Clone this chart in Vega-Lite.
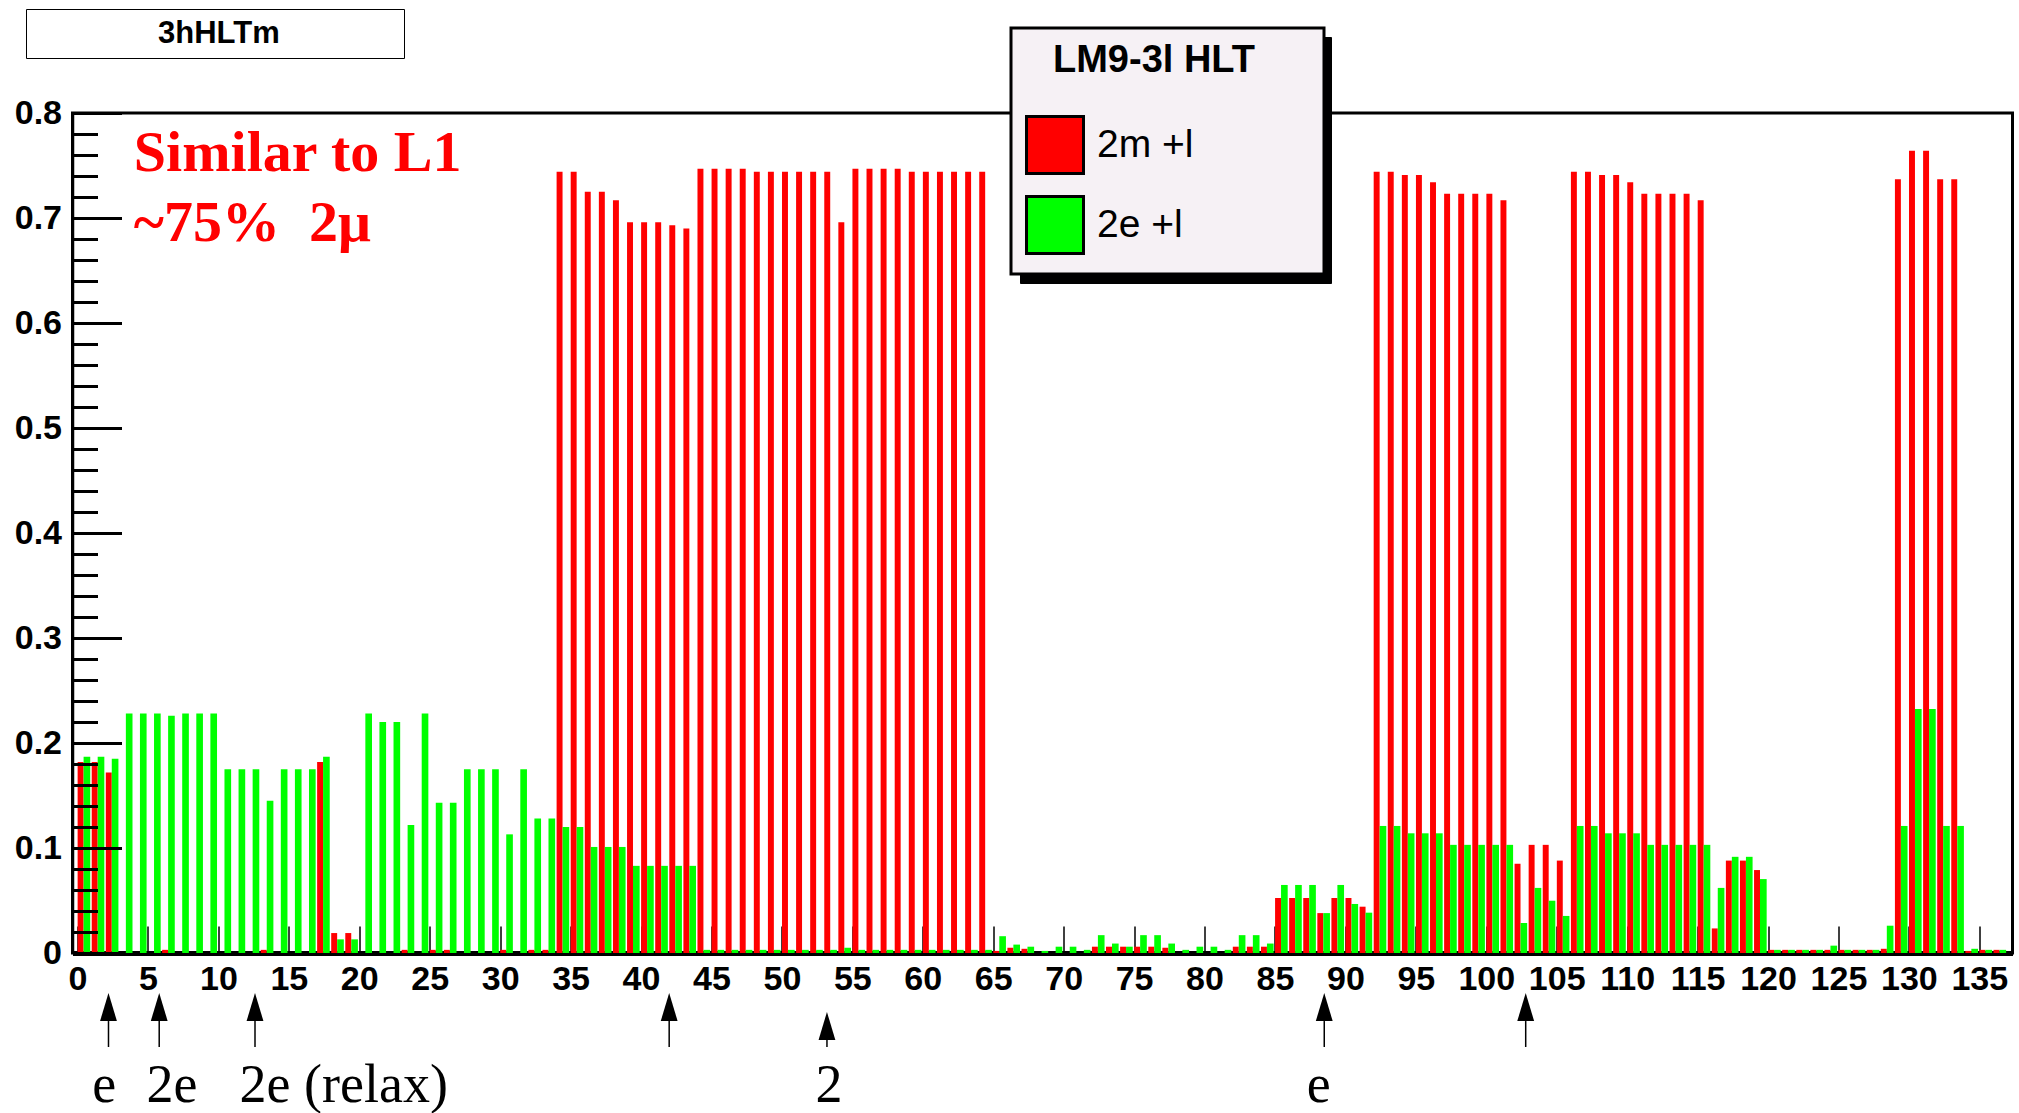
{
  "$schema": "https://vega.github.io/schema/vega-lite/v6.json",
  "width": 1940,
  "height": 840,
  "autosize": {"type": "none"},
  "padding": {"left": 72.5, "top": 113, "right": 6.5, "bottom": 160},
  "background": "white",
  "config": {
    "view": {"stroke": "black", "strokeWidth": 3},
    "axis": {"domainColor": "black", "tickColor": "black", "labelColor": "black", "grid": false}
  },
  "data": {"values": [
    {"bin":0,"m":0.182,"e":0.187},{"bin":1,"m":0.182,"e":0.187},{"bin":2,"m":0.172,"e":0.185},
    {"bin":3,"m":0,"e":0.228},{"bin":4,"m":0,"e":0.228},{"bin":5,"m":0,"e":0.228},
    {"bin":6,"m":0.003,"e":0.226},{"bin":7,"m":0,"e":0.228},{"bin":8,"m":0,"e":0.228},
    {"bin":9,"m":0,"e":0.228},{"bin":10,"m":0,"e":0.175},{"bin":11,"m":0,"e":0.175},
    {"bin":12,"m":0,"e":0.175},{"bin":13,"m":0.003,"e":0.145},{"bin":14,"m":0,"e":0.175},
    {"bin":15,"m":0,"e":0.175},{"bin":16,"m":0,"e":0.175},{"bin":17,"m":0.182,"e":0.187},
    {"bin":18,"m":0.019,"e":0.013},{"bin":19,"m":0.019,"e":0.013},{"bin":20,"m":0,"e":0.228},
    {"bin":21,"m":0,"e":0.22},{"bin":22,"m":0,"e":0.22},{"bin":23,"m":0.003,"e":0.122},
    {"bin":24,"m":0,"e":0.228},{"bin":25,"m":0.003,"e":0.143},{"bin":26,"m":0.003,"e":0.143},
    {"bin":27,"m":0,"e":0.175},{"bin":28,"m":0,"e":0.175},{"bin":29,"m":0,"e":0.175},
    {"bin":30,"m":0.003,"e":0.113},{"bin":31,"m":0,"e":0.175},{"bin":32,"m":0.003,"e":0.128},
    {"bin":33,"m":0.003,"e":0.128},{"bin":34,"m":0.744,"e":0.12},{"bin":35,"m":0.744,"e":0.12},
    {"bin":36,"m":0.725,"e":0.101},{"bin":37,"m":0.725,"e":0.101},{"bin":38,"m":0.717,"e":0.101},
    {"bin":39,"m":0.696,"e":0.083},{"bin":40,"m":0.696,"e":0.083},{"bin":41,"m":0.696,"e":0.083},
    {"bin":42,"m":0.693,"e":0.083},{"bin":43,"m":0.69,"e":0.083},{"bin":44,"m":0.747,"e":0.003},
    {"bin":45,"m":0.747,"e":0.003},{"bin":46,"m":0.747,"e":0.003},{"bin":47,"m":0.747,"e":0.003},
    {"bin":48,"m":0.744,"e":0.003},{"bin":49,"m":0.744,"e":0.003},{"bin":50,"m":0.744,"e":0.003},
    {"bin":51,"m":0.744,"e":0.003},{"bin":52,"m":0.744,"e":0.003},{"bin":53,"m":0.744,"e":0.003},
    {"bin":54,"m":0.696,"e":0.005},{"bin":55,"m":0.747,"e":0.003},{"bin":56,"m":0.747,"e":0.003},
    {"bin":57,"m":0.747,"e":0.003},{"bin":58,"m":0.747,"e":0.003},{"bin":59,"m":0.744,"e":0.003},
    {"bin":60,"m":0.744,"e":0.003},{"bin":61,"m":0.744,"e":0.003},{"bin":62,"m":0.744,"e":0.003},
    {"bin":63,"m":0.744,"e":0.003},{"bin":64,"m":0.744,"e":0.003},{"bin":65,"m":0.002,"e":0.016},
    {"bin":66,"m":0.005,"e":0.008},{"bin":67,"m":0.004,"e":0.006},{"bin":68,"m":0,"e":0.002},
    {"bin":69,"m":0,"e":0.006},{"bin":70,"m":0,"e":0.006},{"bin":71,"m":0,"e":0.003},
    {"bin":72,"m":0.006,"e":0.017},{"bin":73,"m":0.006,"e":0.009},{"bin":74,"m":0.006,"e":0.006},
    {"bin":75,"m":0.006,"e":0.017},{"bin":76,"m":0.006,"e":0.017},{"bin":77,"m":0.005,"e":0.009},
    {"bin":78,"m":0,"e":0.003},{"bin":79,"m":0,"e":0.006},{"bin":80,"m":0,"e":0.006},
    {"bin":81,"m":0,"e":0.003},{"bin":82,"m":0.006,"e":0.017},{"bin":83,"m":0.006,"e":0.017},
    {"bin":84,"m":0.006,"e":0.009},{"bin":85,"m":0.0524,"e":0.0648},{"bin":86,"m":0.0524,"e":0.0648},
    {"bin":87,"m":0.0524,"e":0.0648},{"bin":88,"m":0.038,"e":0.038},{"bin":89,"m":0.0524,"e":0.0648},
    {"bin":90,"m":0.0524,"e":0.0467},{"bin":91,"m":0.0441,"e":0.0384},{"bin":92,"m":0.744,"e":0.121},
    {"bin":93,"m":0.744,"e":0.121},{"bin":94,"m":0.741,"e":0.114},{"bin":95,"m":0.741,"e":0.114},
    {"bin":96,"m":0.734,"e":0.114},{"bin":97,"m":0.723,"e":0.103},{"bin":98,"m":0.723,"e":0.103},
    {"bin":99,"m":0.723,"e":0.103},{"bin":100,"m":0.723,"e":0.103},{"bin":101,"m":0.717,"e":0.103},
    {"bin":102,"m":0.085,"e":0.0286},{"bin":103,"m":0.103,"e":0.062},{"bin":104,"m":0.103,"e":0.0498},
    {"bin":105,"m":0.088,"e":0.0353},{"bin":106,"m":0.744,"e":0.121},{"bin":107,"m":0.744,"e":0.121},
    {"bin":108,"m":0.741,"e":0.114},{"bin":109,"m":0.741,"e":0.114},{"bin":110,"m":0.734,"e":0.114},
    {"bin":111,"m":0.723,"e":0.103},{"bin":112,"m":0.723,"e":0.103},{"bin":113,"m":0.723,"e":0.103},
    {"bin":114,"m":0.723,"e":0.103},{"bin":115,"m":0.717,"e":0.103},{"bin":116,"m":0.0234,"e":0.062},
    {"bin":117,"m":0.088,"e":0.0916},{"bin":118,"m":0.088,"e":0.0916},{"bin":119,"m":0.079,"e":0.0704},
    {"bin":120,"m":0.003,"e":0.003},{"bin":121,"m":0.003,"e":0.003},{"bin":122,"m":0.003,"e":0.003},
    {"bin":123,"m":0.003,"e":0.003},{"bin":124,"m":0.003,"e":0.007},{"bin":125,"m":0.003,"e":0.003},
    {"bin":126,"m":0.003,"e":0.003},{"bin":127,"m":0.003,"e":0.003},{"bin":128,"m":0.004,"e":0.026},
    {"bin":129,"m":0.737,"e":0.121},{"bin":130,"m":0.764,"e":0.2325},{"bin":131,"m":0.764,"e":0.2325},
    {"bin":132,"m":0.737,"e":0.121},{"bin":133,"m":0.737,"e":0.121},{"bin":134,"m":0.002,"e":0.004},
    {"bin":135,"m":0.003,"e":0.003},{"bin":136,"m":0.003,"e":0.003}
  ]},
  "layer": [
    {
      "mark": {"type": "bar", "orient": "vertical", "width": 5.95, "xOffset": 3.1},
      "encoding": {
        "x": {"field": "bin", "type": "quantitative",
          "scale": {"domain": [0, 137], "nice": false, "zero": false},
          "axis": {"title": null, "values": [0,5,10,15,20,25,30,35,40,45,50,55,60,65,70,75,80,85,90,95,100,105,110,115,120,125,130,135],
            "tickCount": 200, "format": "d", "labelFont": "Liberation Sans", "labelFontWeight": "bold",
            "labelFontSize": 34, "labelPadding": 36, "labelFlush": false, "labelOverlap": false,
            "tickSize": -27, "tickWidth": 1.5, "domainWidth": 5, "zindex": 0}},
        "y": {"field": "m", "type": "quantitative",
          "scale": {"domain": [0, 0.8], "nice": false},
          "axis": {"title": null, "tickCount": 200,
            "values": [0,0.02,0.04,0.06,0.08,0.1,0.12,0.14,0.16,0.18,0.2,0.22,0.24,0.26,0.28,0.3,0.32,0.34,0.36,0.38,0.4,0.42,0.44,0.46,0.48,0.5,0.52,0.54,0.56,0.58,0.6,0.62,0.64,0.66,0.68,0.7,0.72,0.74,0.76,0.78,0.8],
            "labelExpr": "abs(datum.value*10 - round(datum.value*10)) < 0.001 ? (datum.value < 0.001 ? '0' : format(datum.value, '.1f')) : ''",
            "labelFont": "Liberation Sans", "labelFontWeight": "bold", "labelFontSize": 34, "labelPadding": 60,
            "labelOverlap": false, "labelFlush": false,
            "tickSize": {"condition": {"test": "abs(datum.value*10 - round(datum.value*10)) < 0.001", "value": -49}, "value": -25},
            "tickWidth": 3, "domainWidth": 2.5, "zindex": 1}},
        "color": {"datum": "2m +l",
          "scale": {"domain": ["2m +l", "2e +l"], "range": ["#ff0000", "#00ff00"]},
          "legend": {"orient": "none", "legendX": 938.5, "legendY": -85,
            "title": "\u2800LM9-3l HLT",
            "titleFont": "Liberation Sans", "titleFontSize": 38, "titleFontWeight": "bold", "titleColor": "black",
            "titleLimit": 2000, "titlePadding": 35,
            "labelExpr": "datum.label + '\u2800\u2800\u2800\u2800'",
            "labelFont": "Liberation Sans", "labelFontSize": 39, "labelColor": "black", "labelLimit": 2000, "labelOffset": 12,
            "symbolType": "square", "symbolSize": 3249, "symbolStrokeColor": "black", "symbolStrokeWidth": 3,
            "fillColor": "#f6f1f5", "strokeColor": "black", "padding": 14, "rowPadding": 10, "zindex": 2,
            "encode": {"legend": {"update": {"strokeWidth": {"value": 3}}}}}}
      }
    },
    {
      "mark": {"type": "bar", "orient": "vertical", "width": 6.65, "xOffset": 9.42},
      "encoding": {
        "x": {"field": "bin", "type": "quantitative"},
        "y": {"field": "e", "type": "quantitative"},
        "color": {"datum": "2e +l"}
      }
    },
    {
      "data": {"values": [{"k": "2m +l"}, {"k": "2e +l"}]},
      "mark": {"type": "point", "opacity": 0},
      "encoding": {
        "shape": {"field": "k", "type": "nominal",
          "legend": {"orient": "none", "legendX": 947.5, "legendY": -76,
            "title": "\u2800\u2800\u2800\u2800\u2800",
            "titleFont": "Liberation Sans", "titleFontSize": 38, "titleFontWeight": "bold", "titleColor": "black",
            "titleLimit": 2000, "titlePadding": 35,
            "labelExpr": "'\u2800\u2800\u2800\u2800\u2800\u2800\u2800'",
            "labelFont": "Liberation Sans", "labelFontSize": 39, "labelColor": "black", "labelLimit": 2000, "labelOffset": 20,
            "symbolType": "square", "symbolSize": 3249, "symbolStrokeColor": "black", "symbolFillColor": "black", "symbolStrokeWidth": 3,
            "fillColor": "black", "strokeColor": "black", "padding": 14, "rowPadding": 10, "zindex": 1,
            "encode": {"legend": {"update": {"strokeWidth": {"value": 3}}}}}}
      }
    },
    {
      "data": {"values": [{"a": 1}]},
      "mark": {"type": "text", "text": ""},
      "encoding": {
        "opacity": {"datum": "3hHLTm",
          "legend": {"orient": "none", "legendX": -46.5, "legendY": -104, "title": null,
            "labelExpr": "'\u2800\u2800\u2800\u2800' + datum.label + '\u2800\u2800\u2800\u2800\u2800'",
            "labelFont": "Liberation Sans", "labelFontSize": 31, "labelFontWeight": "bold", "labelColor": "black", "labelLimit": 2000,
            "labelOffset": 0, "symbolSize": 0, "symbolStrokeWidth": 0, "symbolOpacity": 0,
            "fillColor": "white", "strokeColor": "black", "padding": 9, "zindex": 1,
            "encode": {"legend": {"update": {"strokeWidth": {"value": 3}}}}}}
      }
    },
    {
      "data": {"values": [{"a": 1}]},
      "mark": {"type": "text", "text": "Similar to L1", "font": "Liberation Serif", "fontWeight": "bold", "fontSize": 58, "color": "#ff0000", "align": "left", "baseline": "alphabetic"},
      "encoding": {"x": {"datum": 4.0}, "y": {"datum": 0.7445}}
    },
    {
      "data": {"values": [{"a": 1}]},
      "mark": {"type": "text", "text": "~75%\u00a0\u00a02\u03bc", "font": "Liberation Serif", "fontWeight": "bold", "fontSize": 58, "color": "#ff0000", "align": "left", "baseline": "alphabetic"},
      "encoding": {"x": {"datum": 4.0}, "y": {"datum": 0.678}}
    },
    {
      "data": {"values": [{"x": 2.2}, {"x": 5.8}, {"x": 12.6}, {"x": 42.0}, {"x": 88.5}, {"x": 102.8}]},
      "mark": {"type": "rule", "color": "black", "strokeWidth": 1.5},
      "encoding": {"x": {"field": "x", "type": "quantitative"}, "y": {"datum": -0.0648}, "y2": {"datum": -0.0895}}
    },
    {
      "data": {"values": [{"x": 2.2}, {"x": 5.8}, {"x": 12.6}, {"x": 42.0}, {"x": 88.5}, {"x": 102.8}]},
      "mark": {"type": "point", "shape": "M0,-1L0.6,1L-0.6,1Z", "size": 784, "filled": true, "color": "black", "opacity": 1},
      "encoding": {"x": {"field": "x", "type": "quantitative"}, "y": {"datum": -0.0514}}
    },
    {
      "data": {"values": [{"x": 53.2}]},
      "mark": {"type": "rule", "color": "black", "strokeWidth": 1.5},
      "encoding": {"x": {"field": "x", "type": "quantitative"}, "y": {"datum": -0.0829}, "y2": {"datum": -0.0895}}
    },
    {
      "data": {"values": [{"x": 53.2}]},
      "mark": {"type": "point", "shape": "M0,-1L0.6,1L-0.6,1Z", "size": 784, "filled": true, "color": "black", "opacity": 1},
      "encoding": {"x": {"field": "x", "type": "quantitative"}, "y": {"datum": -0.0695}}
    },
    {
      "data": {"values": [{"x": 1.9, "label": "e"}, {"x": 6.7, "label": "2e"}, {"x": 18.9, "label": "2e (relax)"}, {"x": 53.35, "label": "2"}, {"x": 88.1, "label": "e"}]},
      "mark": {"type": "text", "font": "Liberation Serif", "fontSize": 54, "color": "black", "align": "center", "baseline": "alphabetic"},
      "encoding": {"x": {"field": "x", "type": "quantitative"}, "y": {"datum": -0.142}, "text": {"field": "label"}}
    }
  ]
}
